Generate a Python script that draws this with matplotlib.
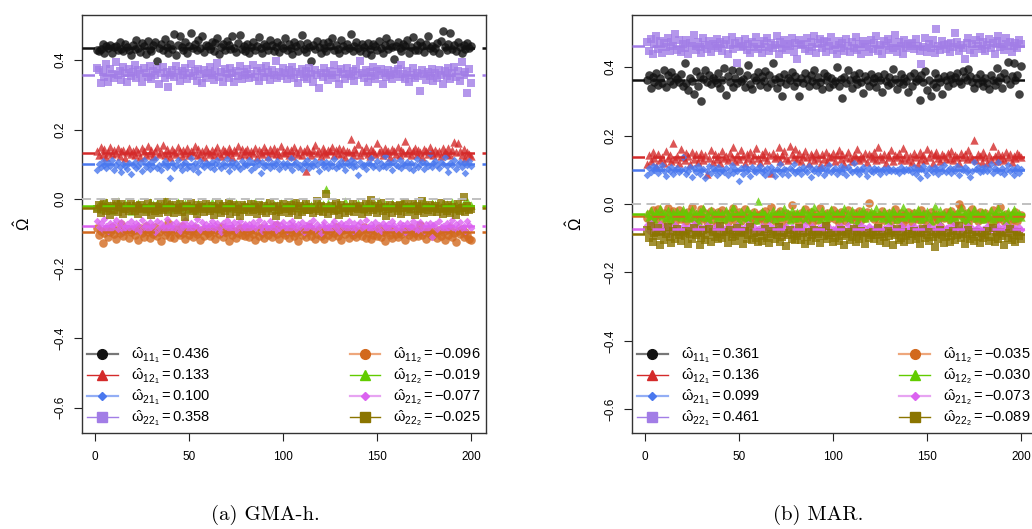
import numpy as np
import matplotlib.pyplot as plt
from matplotlib.lines import Line2D

plt.rcParams['font.family'] = ['Liberation Sans', 'DejaVu Sans']
plt.rcParams['mathtext.fontset'] = 'custom'
plt.rcParams['mathtext.rm'] = 'Liberation Sans'
plt.rcParams['mathtext.it'] = 'Liberation Sans'
plt.rcParams['mathtext.bf'] = 'Liberation Sans:bold'

# values, in thousandths (x = 1..200)
gma_w11_1 = [
    428, 425, 432, 446, 421, 439, 434, 442, 419, 437, 441, 428, 452, 433, 426, 447, 438, 429, 413, 444,
    431, 458, 436, 424, 449, 440, 417, 455, 433, 427, 442, 451, 398, 436, 445, 429, 461, 438, 421, 447,
    433, 476, 415, 443, 469, 437, 428, 452, 419, 441, 477, 434, 446, 429, 458, 436, 470, 423, 444, 439,
    432, 451, 426, 448, 463, 418, 437, 445, 429, 455, 442, 431, 468, 436, 424, 449, 472, 433, 440, 427,
    446, 419, 438, 453, 428, 441, 466, 435, 421, 447, 439, 430, 458, 444, 426, 437, 451, 423, 442, 434,
    463, 429, 447, 436, 418, 452, 440, 427, 445, 471, 433, 424, 449, 438, 396, 443, 431, 456, 437, 420,
    448, 435, 426, 451, 439, 462, 428, 444, 433, 419, 457, 441, 430, 447, 436, 474, 425, 439, 452, 434,
    427, 445, 438, 421, 450, 433, 414, 446, 439, 428, 455, 436, 420, 443, 462, 431, 449, 437, 404, 441,
    452, 435, 426, 447, 441, 458, 419, 437, 465, 430, 444, 428, 453, 439, 422, 446, 468, 434, 441, 427,
    436, 449, 421, 455, 483, 438, 429, 446, 478, 433, 442, 425, 451, 437, 419, 444, 431, 448, 436, 440]
gma_w12_1 = [
    138, 127, 149, 131, 144, 122, 136, 151, 129, 140, 133, 147, 125, 138, 142, 119, 135, 148, 130, 139,
    126, 143, 134, 121, 146, 137, 128, 152, 133, 141, 124, 138, 149, 130, 136, 155, 127, 143, 132, 120,
    145, 134, 129, 150, 138, 123, 141, 132, 147, 126, 139, 135, 153, 128, 144, 131, 137, 122, 148, 136,
    130, 142, 127, 139, 151, 133, 124, 145, 137, 129, 146, 134, 121, 140, 136, 152, 128, 143, 131, 138,
    144, 126, 139, 133, 148, 122, 141, 135, 129, 150, 137, 125, 143, 132, 146, 130, 138, 127, 154, 136,
    133, 145, 128, 140, 124, 149, 136, 131, 143, 127, 138, 80, 147, 134, 126, 141, 155, 132, 137, 123,
    146, 135, 129, 142, 138, 151, 126, 140, 133, 148, 130, 144, 122, 139, 136, 173, 128, 143, 134, 157,
    127, 141, 136, 149, 131, 124, 145, 138, 129, 161, 134, 142, 126, 147, 133, 139, 121, 144, 137, 130,
    151, 128, 140, 135, 166, 132, 143, 126, 138, 147, 129, 141, 134, 122, 145, 137, 130, 149, 136, 127,
    142, 133, 139, 125, 146, 136, 131, 148, 128, 141, 164, 134, 162, 139, 127, 144, 118, 136, 130, 124]
gma_w21_1 = [
    85, 102, 91, 110, 97, 88, 104, 95, 112, 83, 99, 107, 92, 78, 101, 94, 86, 105, 73, 98,
    108, 89, 96, 103, 81, 111, 93, 100, 87, 106, 96, 114, 90, 98, 84, 102, 109, 92, 97, 61,
    104, 88, 99, 113, 94, 83, 101, 107, 90, 96, 118, 87, 103, 95, 79, 109, 98, 91, 105, 100,
    93, 106, 86, 102, 111, 97, 89, 104, 95, 115, 82, 99, 108, 91, 103, 96, 87, 110, 94, 101,
    97, 112, 85, 104, 93, 109, 100, 76, 106, 92, 98, 114, 88, 103, 95, 101, 110, 86, 99, 105,
    91, 103, 96, 117, 84, 100, 108, 93, 97, 87, 105, 99, 113, 90, 102, 94, 109, 98, 82, 106,
    100, 92, 107, 89, 104, 96, 115, 88, 101, 94, 110, 97, 85, 103, 99, 112, 91, 106, 95, 69,
    108, 94, 99, 87, 105, 101, 119, 93, 97, 110, 89, 103, 96, 125, 92, 106, 100, 84, 109, 98,
    95, 111, 88, 102, 97, 107, 90, 104, 83, 99, 114, 93, 101, 108, 86, 105, 96, 131, 92, 103,
    110, 97, 89, 106, 101, 121, 94, 77, 103, 98, 112, 86, 100, 107, 92, 104, 75, 99, 109, 96]
gma_w22_1 = [
    378, 371, 334, 366, 352, 389, 336, 374, 361, 348, 395, 357, 369, 343, 381, 362, 337, 375, 354, 366,
    385, 349, 371, 360, 338, 377, 364, 352, 383, 345, 368, 356, 374, 331, 362, 379, 347, 366, 322, 358,
    372, 351, 384, 363, 340, 369, 357, 378, 346, 362, 388, 354, 367, 341, 375, 360, 333, 371, 349, 364,
    380, 356, 343, 368, 391, 352, 365, 338, 374, 359, 347, 377, 362, 336, 369, 354, 382, 345, 366, 357,
    373, 348, 361, 387, 350, 368, 339, 376, 363, 352, 384, 366, 342, 371, 358, 396, 347, 365, 355, 378,
    362, 344, 370, 357, 381, 349, 366, 333, 359, 374, 352, 368, 345, 377, 361, 338, 372, 356, 320, 364,
    351, 376, 363, 342, 369, 357, 385, 348, 366, 330, 373, 359, 346, 378, 361, 353, 368, 340, 375, 356,
    398, 362, 349, 371, 337, 365, 354, 380, 346, 368, 358, 375, 331, 363, 350, 372, 357, 344, 367, 359,
    373, 352, 387, 361, 345, 369, 336, 357, 378, 348, 364, 353, 310, 370, 359, 342, 366, 355, 374, 339,
    362, 349, 371, 358, 330, 367, 354, 376, 345, 363, 381, 352, 368, 341, 394, 356, 366, 305, 373, 335]
gma_w11_2 = [
    -82, -104, -91, -125, -97, -86, -110, -94, -79, -101, -115, -89, -99, -73, -107, -93, -85, -112, -96, -88,
    -103, -90, -117, -84, -98, -108, -77, -95, -113, -92, -100, -81, -106, -96, -121, -87, -102, -94, -69, -109,
    -91, -111, -86, -99, -104, -78, -97, -116, -89, -103, -93, -108, -83, -100, -95, -119, -88, -105, -92, -98,
    -107, -85, -96, -114, -90, -101, -80, -109, -94, -99, -122, -87, -104, -92, -111, -97, -84, -102, -89, -106,
    -95, -110, -88, -100, -118, -93, -105, -82, -97, -113, -91, -103, -86, -108, -96, -74, -101, -115, -90, -99,
    -104, -89, -112, -95, -83, -107, -98, -120, -92, -102, -87, -110, -96, -79, -106, -93, -116, -100, -88, -105,
    -97, -114, -86, -103, -91, -109, -99, -81, -107, -94, -119, -90, -101, -85, -112, -96, -104, -89, -108, -98,
    -93, -106, -80, -111, -97, -88, -115, -102, -92, -105, -84, -109, -95, -121, -99, -87, -103, -113, -90, -100,
    -108, -94, -101, -86, -117, -96, -104, -82, -110, -98, -91, -107, -76, -103, -95, -114, -89, -100, -106, -93,
    -99, -112, -88, -105, -95, -118, -90, -102, -84, -109, -97, -123, -93, -101, -86, -110, -96, -104, -115, -119]
gma_w12_2 = [
    -22, -15, -28, -12, -20, -9, -25, -17, -31, -14, -19, -7, -23, -16, -27, -11, -21, -18, -33, -13,
    -20, -26, -10, -17, -24, -14, -29, -19, -8, -22, -15, -27, -12, -20, -18, -25, -6, -21, -16, -30,
    -13, -23, -18, -9, -26, -15, -20, -11, -28, -17, -22, -14, -32, -19, -10, -24, -16, -21, -13, -27,
    -18, -9, -25, -14, -21, -28, -12, -19, -23, -16, -7, -26, -15, -20, -11, -24, -17, -30, -13, -22,
    -16, -25, -12, -20, -8, -27, -18, -14, -23, -19, -10, -26, -15, -21, -13, -29, -17, -22, -11, -24,
    -20, -14, -27, -9, -22, -17, -12, -25, -19, -15, -28, -11, -18, -21, -16, -24, -13, -20, -8, -26,
    -15, -22, 30, -11, -25, -14, -20, -29, -16, -12, -23, -19, -7, -26, -17, -21, -13, -24, -18, -10,
    -22, -16, -28, -13, -19, -24, -11, -20, -15, -27, -5, -18, -23, -14, -21, -17, -26, -12, -20, -16,
    -25, -13, -19, -9, -22, -17, -28, -14, -20, -11, -24, -18, -15, -26, -6, -21, -16, -23, -12, -19,
    -14, -23, -17, -27, -11, -20, -15, -25, -18, -9, -22, -13, -29, -16, -21, -12, -24, -7, -19, -16]
gma_w21_2 = [
    -62, -81, -70, -88, -56, -77, -92, -68, -84, -73, -59, -86, -75, -66, -90, -79, -71, -83, -64, -78,
    -85, -69, -76, -91, -61, -80, -72, -87, -67, -79, -74, -95, -63, -82, -70, -77, -89, -58, -75, -84,
    -71, -86, -65, -78, -93, -73, -81, -60, -76, -88, -68, -83, -74, -57, -80, -90, -66, -79, -72, -85,
    -76, -63, -87, -74, -69, -82, -94, -70, -78, -61, -85, -73, -80, -67, -89, -75, -64, -83, -77, -71,
    -88, -72, -79, -66, -84, -75, -59, -81, -92, -70, -77, -86, -63, -80, -73, -90, -68, -82, -76, -65,
    -79, -91, -70, -83, -62, -76, -87, -73, -80, -67, -94, -75, -84, -69, -78, -61, -86, -72, -81, -98,
    -74, -66, -85, -78, -89, -71, -63, -82, -76, -93, -68, -80, -73, -87, -64, -79, -91, -70, -83, -75,
    -67, -84, -77, -60, -81, -88, -72, -79, -65, -86, -74, -92, -69, -78, -83, -71, -89, -63, -76, -85,
    -80, -70, -87, -74, -95, -68, -82, -77, -62, -85, -73, -88, -66, -79, -91, -72, -84, -69, -108, -76,
    -73, -86, -64, -81, -77, -90, -68, -83, -75, -59, -87, -71, -80, -66, -84, -78, -93, -62, -74, -82]
gma_w22_2 = [
    -28, -17, -39, -22, -11, -34, -26, -45, -19, -31, -8, -37, -24, -15, -42, -29, -20, -35, -13, -27,
    -33, -21, -44, -16, -30, -25, -38, -12, -28, -47, -19, -34, -23, -40, -14, -31, -26, -9, -36, -22,
    -18, -41, -27, -32, -15, -37, -24, -53, -20, -29, -11, -35, -26, -43, -17, -30, -22, -38, -13, -28,
    -35, -19, -46, -25, -30, -14, -39, -21, -33, -27, -10, -42, -24, -18, -36, -29, -48, -16, -31, -23,
    -26, -38, -13, -32, -22, -44, -17, -29, -35, -20, -41, -27, -12, -34, -24, -50, -19, -31, -37, -15,
    -30, -23, -40, -18, -33, -27, -11, -45, -21, -36, -25, -14, -31, -32, -22, -39, -28, -7, -34, -19,
    -37, -24, 15, -43, -29, -20, -35, -11, -31, -47, -18, -26, -40, -22, -33, -27, -13, -38, -24, -30,
    -21, -44, -28, -15, -36, -25, -3, -32, -19, -41, -27, -12, -35, -23, -49, -30, -17, -39, -26, -20,
    -33, -18, -42, -27, -10, -37, -24, -30, -14, -45, -21, -35, -28, -5, -40, -23, -32, -16, -38, -26,
    -19, -36, -29, -12, -43, -25, -33, -17, -39, -22, -30, -47, -14, -34, -26, 5, -38, -20, -31, -28]

mar_w11_1 = [
    362, 378, 339, 371, 356, 383, 348, 367, 354, 391, 343, 376, 360, 386, 351, 372, 365, 355, 381, 346,
    412, 352, 334, 369, 359, 322, 387, 345, 374, 300, 364, 391, 357, 377, 349, 368, 362, 352, 383, 338,
    361, 397, 318, 374, 356, 392, 343, 369, 353, 388, 359, 366, 341, 378, 405, 351, 336, 372, 363, 385,
    348, 374, 360, 389, 343, 377, 353, 413, 366, 340, 371, 356, 314, 380, 349, 367, 361, 386, 345, 373,
    357, 315, 369, 352, 382, 364, 344, 378, 359, 391, 347, 371, 356, 336, 384, 362, 373, 342, 367, 351,
    358, 400, 346, 364, 311, 372, 353, 392, 361, 340, 377, 366, 349, 382, 357, 324, 374, 362, 345, 379,
    355, 369, 342, 374, 362, 326, 381, 359, 347, 370, 354, 393, 364, 336, 357, 380, 350, 368, 359, 326,
    373, 345, 382, 358, 366, 305, 376, 355, 389, 334, 363, 316, 351, 384, 341, 367, 357, 320, 374, 361,
    346, 378, 365, 354, 372, 383, 359, 349, 388, 370, 362, 393, 375, 356, 338, 367, 352, 379, 360, 344,
    369, 354, 335, 376, 362, 347, 398, 359, 370, 338, 383, 366, 415, 351, 374, 412, 361, 376, 322, 402]
mar_w12_1 = [
    118, 142, 126, 151, 133, 112, 147, 129, 138, 121, 155, 134, 143, 125, 177, 131, 140, 119, 162, 136,
    127, 148, 139, 116, 153, 130, 145, 122, 137, 150, 128, 143, 89, 135, 157, 124, 146, 132, 139, 121,
    154, 133, 141, 127, 149, 137, 165, 126, 144, 131, 158, 139, 120, 147, 134, 152, 128, 142, 163, 135,
    123, 146, 138, 156, 129, 144, 91, 150, 133, 141, 167, 126, 143, 154, 135, 128, 170, 145, 137, 160,
    132, 149, 125, 141, 156, 136, 121, 147, 139, 128, 151, 134, 115, 145, 131, 153, 124, 140, 137, 148,
    126, 143, 159, 130, 146, 118, 138, 152, 133, 125, 144, 137, 161, 129, 141, 134, 150, 122, 147, 139,
    135, 152, 128, 166, 140, 131, 147, 119, 143, 136, 157, 125, 142, 138, 150, 127, 163, 133, 145, 129,
    141, 124, 149, 136, 118, 153, 132, 144, 129, 160, 137, 148, 121, 142, 151, 135, 126, 146, 139, 131,
    148, 133, 155, 127, 143, 138, 121, 150, 136, 145, 130, 157, 141, 134, 187, 128, 146, 139, 124, 152,
    137, 119, 144, 131, 168, 140, 126, 149, 135, 142, 129, 153, 138, 146, 123, 141, 134, 150, 144, 137]
mar_w21_1 = [
    86, 104, 93, 111, 98, 107, 90, 101, 114, 95, 82, 103, 97, 109, 88, 100, 105, 92, 99, 136,
    102, 89, 96, 108, 79, 105, 94, 111, 87, 99, 103, 75, 97, 110, 91, 104, 98, 85, 107, 93,
    100, 92, 106, 84, 98, 113, 90, 102, 96, 67, 104, 88, 109, 95, 101, 83, 107, 97, 93, 105,
    111, 94, 99, 86, 104, 92, 108, 97, 81, 102, 95, 116, 89, 103, 98, 84, 106, 100, 118, 91,
    96, 103, 88, 107, 99, 93, 112, 78, 101, 95, 105, 90, 98, 109, 85, 102, 97, 113, 92, 100,
    105, 89, 98, 110, 94, 101, 86, 107, 99, 92, 119, 96, 103, 88, 100, 108, 95, 82, 104, 97,
    93, 106, 99, 102, 87, 98, 101, 94, 105, 100, 97, 103, 96, 100, 91, 108, 99, 95, 102, 98,
    101, 94, 107, 89, 99, 75, 103, 110, 96, 85, 104, 98, 92, 109, 100, 87, 106, 97, 113, 94,
    99, 105, 91, 102, 95, 111, 86, 103, 98, 107, 94, 100, 80, 96, 123, 101, 109, 92, 104, 97,
    108, 95, 101, 118, 90, 104, 99, 122, 93, 106, 87, 100, 113, 96, 102, 85, 99, 107, 91, 103]
mar_w22_1 = [
    472, 448, 481, 437, 466, 490, 453, 475, 441, 469, 458, 484, 446, 473, 462, 497, 451, 478, 443, 467,
    456, 480, 438, 471, 461, 495, 449, 474, 459, 441, 486, 465, 452, 477, 444, 468, 460, 483, 455, 472,
    447, 466, 479, 439, 463, 487, 454, 470, 412, 476, 458, 462, 481, 450, 467, 441, 474, 458, 489, 453,
    468, 442, 477, 459, 484, 446, 471, 455, 464, 492, 437, 473, 457, 480, 449, 466, 461, 485, 444, 470,
    424, 478, 463, 467, 452, 486, 447, 474, 458, 491, 441, 469, 482, 456, 476, 445, 472, 460, 487, 451,
    464, 439, 477, 455, 470, 446, 482, 461, 443, 473, 457, 488, 451, 466, 438, 475, 459, 468, 445, 479,
    454, 471, 492, 448, 465, 439, 476, 460, 483, 450, 469, 457, 494, 445, 472, 462, 437, 478, 456, 467,
    460, 470, 453, 481, 462, 447, 409, 458, 486, 443, 466, 455, 479, 440, 511, 461, 450, 477, 463, 452,
    468, 444, 470, 459, 500, 474, 448, 465, 456, 423, 471, 485, 450, 466, 442, 478, 460, 489, 453, 472,
    446, 463, 481, 455, 470, 439, 476, 492, 458, 467, 449, 484, 462, 474, 445, 460, 471, 455, 479, 466]
mar_w11_2 = [
    -42, -28, -51, -19, -37, -46, -14, -33, -58, -25, -40, -11, -47, -30, -21, -54, -36, -17, -44, -27,
    -32, -49, -23, -38, -8, -45, -29, -56, -34, -16, -41, -26, -52, -35, -20, -48, -31, -62, -24, -39,
    -18, -43, -30, -53, -27, -37, -12, -46, -33, -22, -50, -36, -15, -42, -28, -57, -34, -24, -47, -31,
    -40, -25, -54, -20, -38, -44, -10, -33, -49, -29, -37, -21, -59, -35, -26, -45, -32, -4, -43, -30,
    -36, -52, -27, -41, -16, -48, -34, -23, -55, -39, -28, -46, -13, -37, -31, -60, -25, -42, -35, -19,
    -44, -30, -57, -24, -39, -33, -50, -18, -43, -36, -26, -53, -38, -20, -47, -29, -41, -22, 2, -34,
    -28, -45, -37, -61, -31, -20, -48, -35, -42, -25, -51, -33, -14, -46, -39, -27, -56, -32, -44, -23,
    -38, -53, -26, -41, -34, -47, -17, -43, -30, -58, -36, -22, -49, -35, -28, -45, -64, -31, -40, -24,
    -33, -46, -21, -39, -52, -29, 1, -12, -37, -48, -26, -55, -34, -15, -42, -30, -50, -23, -38, -45,
    -27, -41, -35, -54, -19, -47, -32, -43, -9, -36, -51, -28, -40, -60, -31, -44, -22, -49, -37, -33]
mar_w12_2 = [
    -25, -38, -19, -33, -44, -22, -30, -12, -36, -27, -41, -17, -32, -47, -24, -35, -20, -29, -39, -15,
    -31, -23, -42, -28, -16, -37, -26, -50, -21, -34, -11, -39, -29, -45, -18, -33, -25, -40, -22, -36,
    -27, -43, -19, -32, -38, -24, -8, -35, -28, -46, -21, -31, -37, -14, -40, -26, -33, -23, -48, 10,
    -36, -20, -29, -30, -41, -25, -34, -17, -44, -28, -22, -38, -31, -13, -35, -26, -47, -19, -32, -40,
    -24, -37, -30, -16, -43, -27, -33, -21, -39, -9, -35, -28, -45, -18, -31, -42, -25, -36, -14, -29,
    -34, -22, -40, -27, -31, -12, -38, -25, -44, -19, -33, -29, -49, -23, -36, -15, -41, -28, -32, -21,
    -39, -26, -11, -35, -29, -42, -20, -33, -47, -24, -37, -17, -30, -43, -26, -34, -10, -38, -22, -31,
    -28, -41, -23, -36, -15, -32, -45, -27, -38, -20, -34, -51, -25, -7, -30, -43, -19, -35, -27, -39,
    -33, -18, -44, -29, -37, -23, -31, -13, -40, -26, -48, -21, -35, -30, -16, -42, -28, -36, -24, -45,
    -22, -38, -31, -17, -43, -27, -34, -12, -39, -25, -30, -46, -20, -36, -28, -15, -41, -33, -26, -37]
mar_w21_2 = [
    -62, -78, -55, -70, -84, -66, -74, -59, -81, -71, -65, -77, -88, -68, -73, -61, -79, -70, -85, -64,
    -76, -69, -82, -63, -74, -58, -80, -72, -67, -86, -71, -75, -62, -79, -68, -83, -73, -60, -77, -70,
    -66, -81, -72, -64, -78, -69, -87, -74, -61, -76, -70, -83, -67, -75, -59, -80, -72, -68, -84, -73,
    -79, -65, -74, -71, -82, -62, -77, -69, -85, -73, -66, -78, -70, -91, -64, -75, -81, -68, -72, -76,
    -70, -84, -67, -76, -61, -79, -73, -88, -65, -74, -80, -69, -77, -63, -82, -71, -75, -66, -86, -72,
    -75, -68, -80, -64, -77, -72, -83, -60, -74, -79, -67, -85, -71, -76, -62, -81, -70, -78, -65, -73,
    -81, -71, -66, -78, -73, -87, -69, -75, -63, -80, -72, -68, -84, -76, -70, -61, -79, -74, -82, -67,
    -72, -77, -64, -83, -70, -75, -89, -68, -78, -71, -65, -81, -74, -69, -86, -73, -62, -79, -76, -70,
    -68, -82, -74, -60, -79, -71, -76, -85, -67, -73, -80, -64, -77, -70, -83, -72, -66, -78, -95, -74,
    -76, -63, -80, -72, -69, -84, -74, -65, -81, -70, -77, -62, -86, -73, -68, -79, -71, -83, -66, -75]
mar_w22_2 = [
    -75, -98, -64, -110, -86, -93, -71, -119, -82, -104, -89, -67, -97, -113, -80, -101, -74, -92, -108, -85,
    -95, -78, -116, -88, -102, -69, -91, -84, -121, -99, -77, -106, -90, -72, -111, -83, -96, -87, -103, -65,
    -100, -81, -92, -114, -76, -97, -88, -109, -70, -94, -85, -118, -79, -101, -91, -66, -105, -86, -98, -112,
    -83, -107, -94, -73, -99, -115, -87, -80, -103, -92, -68, -110, -96, -84, -122, -90, -77, -101, -89, -106,
    -93, -71, -104, -86, -117, -97, -81, -108, -90, -75, -100, -88, -113, -79, -95, -64, -102, -91, -84, -111,
    -98, -85, -109, -76, -94, -120, -89, -82, -105, -96, -73, -112, -87, -101, -78, -93, -116, -84, -99, -90,
    -81, -103, -92, -69, -107, -88, -97, -114, -79, -95, -86, -121, -91, -74, -104, -99, -83, -110, -93, -87,
    -106, -89, -78, -101, -94, -117, -85, -72, -98, -91, -109, -82, -96, -125, -88, -103, -76, -92, -113, -97,
    -86, -111, -95, -80, -104, -90, -63, -99, -87, -118, -93, -75, -102, -89, -108, -82, -97, -115, -84, -100,
    -92, -79, -107, -96, -70, -112, -88, -101, -83, -94, -119, -86, -98, -73, -105, -90, -110, -81, -95, -102]

# averages shown in the legends (order: 11_1, 12_1, 21_1, 22_1, 11_2, 12_2, 21_2, 22_2)
names = ["11_1", "12_1", "21_1", "22_1", "11_2", "12_2", "21_2", "22_2"]
gma_means = [0.436, 0.133, 0.100, 0.358, -0.096, -0.019, -0.077, -0.025]
mar_means = [0.361, 0.136, 0.099, 0.461, -0.035, -0.030, -0.073, -0.089]
captions = ["(a) GMA-h.", "(b) MAR."]
xticks = [0, 50, 100, 150, 200]
yticks = [-0.6, -0.4, -0.2, 0.0, 0.2, 0.4]
ytick_labels = ["\u22120.6", "\u22120.4", "\u22120.2", "0.0", "0.2", "0.4"]

gma_series = [gma_w11_1, gma_w12_1, gma_w21_1, gma_w22_1,
              gma_w11_2, gma_w12_2, gma_w21_2, gma_w22_2]
mar_series = [mar_w11_1, mar_w12_1, mar_w21_1, mar_w22_1,
              mar_w11_2, mar_w12_2, mar_w21_2, mar_w22_2]

colors = ["#111111", "#D42A2A", "#4A78EE", "#A27DE6",
          "#D2691E", "#62CC00", "#DB62F0", "#8B7500"]
legend_line = ["#777777", "#D42A2A", "#93AEF5", "#A27DE6",
               "#EEA77C", "#62CC00", "#E7A4F2", "#8B7500"]
legend_lw = [1.6, 1, 1.6, 1, 1.6, 1, 1.6, 1]
markers = ["o", "^", "D", "s", "o", "^", "D", "s"]
msize = [38, 36, 15, 32, 38, 36, 15, 32]
leg_ms = [7, 7, 4.5, 7, 7, 7, 4.5, 7]

t = np.arange(1, 201)


def panel(ax, series, means, ylim):
    for k, vals in enumerate(series):
        ax.scatter(t, np.array(vals) / 1000.0, s=msize[k], marker=markers[k],
                   color=colors[k], alpha=0.8, linewidths=0, zorder=2)
    ax.axhline(0, color="#BBBBBB", lw=1.3, ls=(0, (5, 3)), zorder=3)
    for k, m in enumerate(means):
        ax.axhline(m, color=colors[k], lw=1.8, ls=(0, (5, 3)), zorder=3)
    ax.set_xlim(-6.96, 207.96)
    ax.set_ylim(*ylim)
    ax.set_xticks(xticks)
    ax.set_yticks(yticks)
    ax.set_yticklabels(ytick_labels, rotation=90, va="center")
    ax.tick_params(length=6, width=0.8, pad=5, labelsize=8.5, color="#222222")
    ax.tick_params(axis="x", pad=7)
    for sp in ax.spines.values():
        sp.set_color("#333333")
        sp.set_linewidth(1.0)

    hs = []
    for k in range(8):
        lab = r"$\hat{\omega}_{%s} = %.3f$" % (names[k].replace("_", "_{") + "}", means[k])
        hs.append(Line2D([], [], color=legend_line[k], lw=legend_lw[k],
                         marker=markers[k], markerfacecolor=colors[k],
                         markeredgecolor=colors[k], markersize=leg_ms[k],
                         label=lab))
    kw = dict(frameon=False, fontsize=10.5, handlelength=2.1, handletextpad=0.9,
              labelspacing=0.08, borderaxespad=0.0, borderpad=0.35)
    leg1 = ax.legend(handles=hs[:4], loc="lower left", **kw)
    ax.add_artist(leg1)
    ax.legend(handles=hs[4:], loc="lower right", **kw)


fig = plt.figure(figsize=(10.32, 5.29), dpi=100)
ax1 = fig.add_axes([82 / 1032, 96 / 529, 404 / 1032, 418 / 529])
ax2 = fig.add_axes([632 / 1032, 96 / 529, 404 / 1032, 418 / 529])

panel(ax1, gma_series, gma_means, (-0.673, 0.5295))
panel(ax2, mar_series, mar_means, (-0.669, 0.552))

for xp in (23, 575):
    fig.text(xp / 1032, 1 - 224 / 529, r"$\hat{\Omega}$", rotation=90,
             ha="center", va="center", fontsize=12)

fig.text(265 / 1032, 1 - 515 / 529, captions[0], ha="center", va="center",
         fontsize=15, family="cmr10")
fig.text(818 / 1032, 1 - 515 / 529, captions[1], ha="center", va="center",
         fontsize=15, family="cmr10")

fig.savefig("out.png", dpi=100)
